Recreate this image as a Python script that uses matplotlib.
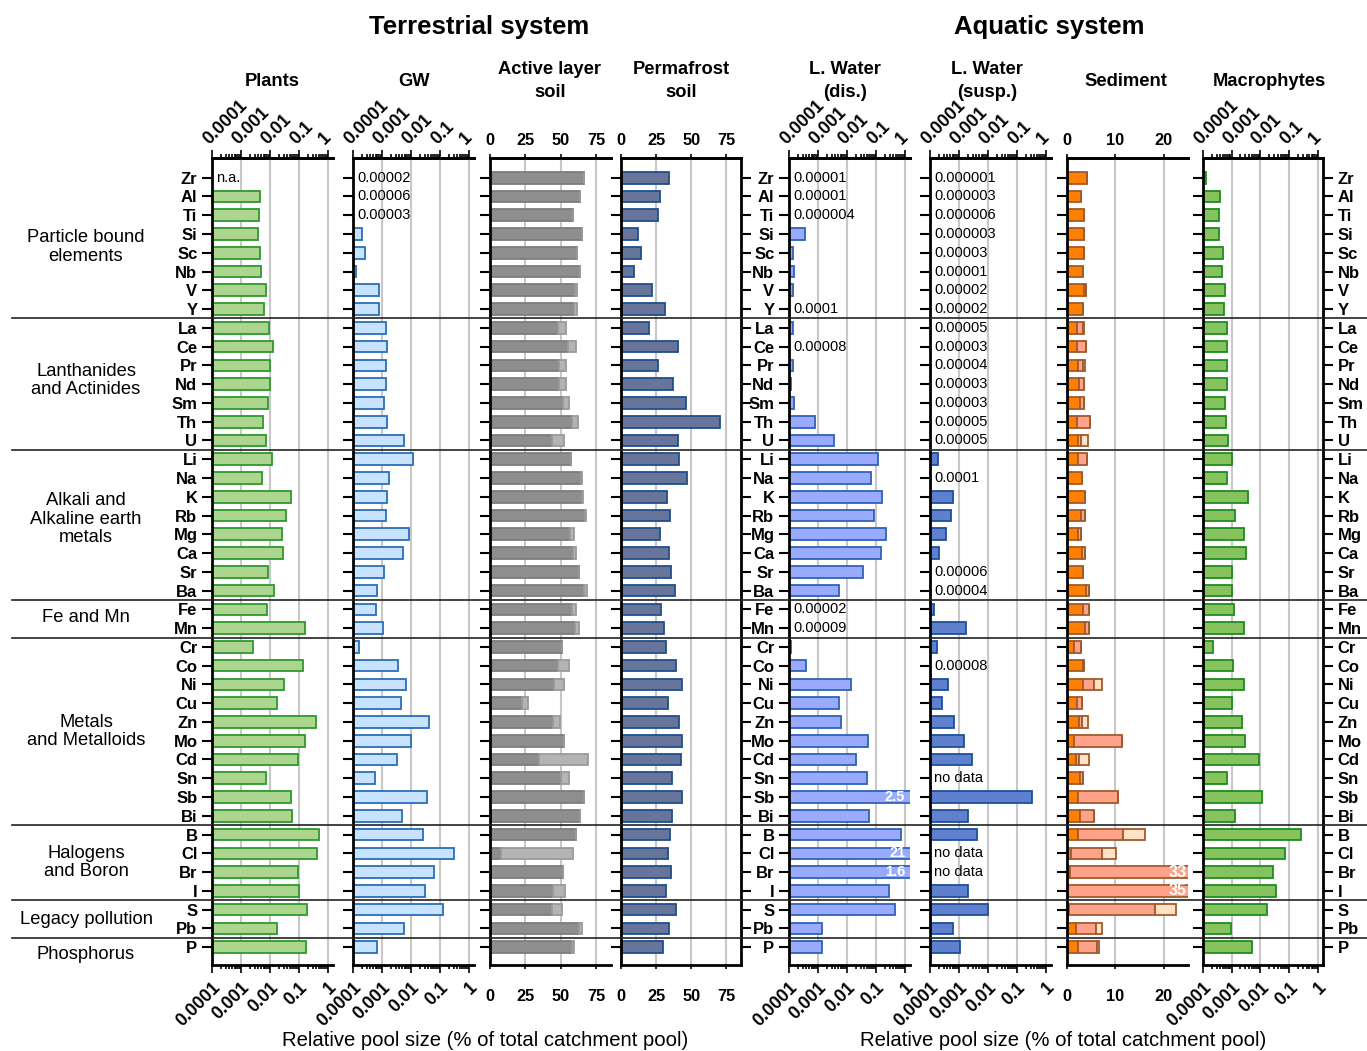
import numpy as np
import matplotlib
matplotlib.use("Agg")
import matplotlib.pyplot as plt
from matplotlib.lines import Line2D
from matplotlib.ticker import LogLocator, NullFormatter
from matplotlib.transforms import blended_transform_factory

plt.rcParams['font.family'] = ['Liberation Sans', 'DejaVu Sans']

nan = np.nan

elements = ["Zr", "Al", "Ti", "Si", "Sc", "Nb", "V", "Y",
            "La", "Ce", "Pr", "Nd", "Sm", "Th", "U",
            "Li", "Na", "K", "Rb", "Mg", "Ca", "Sr", "Ba",
            "Fe", "Mn",
            "Cr", "Co", "Ni", "Cu", "Zn", "Mo", "Cd", "Sn", "Sb", "Bi",
            "B", "Cl", "Br", "I",
            "S", "Pb",
            "P"]

group_names = ["Particle bound\nelements", "Lanthanides\nand Actinides",
               "Alkali and\nAlkaline earth\nmetals", "Fe and Mn",
               "Metals\nand Metalloids", "Halogens\nand Boron",
               "Legacy pollution", "Phosphorus"]
group_rows = [3.7, 10.8, 18.2, 23.45, 29.5, 36.5, 39.55, 41.4]
group_breaks = [7.5, 14.5, 22.5, 24.5, 34.5, 38.5, 40.5]

# relative pool sizes (% of total catchment pool)
plants = [nan, 0.0045, 0.0043, 0.004, 0.0047, 0.0051, 0.0075, 0.0064,
          0.0093, 0.013, 0.010, 0.0097, 0.0083, 0.0059, 0.0075,
          0.0114, 0.0054, 0.052, 0.037, 0.027, 0.029, 0.0088, 0.0134,
          0.0081, 0.165,
          0.0027, 0.14, 0.030, 0.018, 0.39, 0.165, 0.093, 0.0075, 0.052, 0.058,
          0.49, 0.41, 0.095, 0.097,
          0.19, 0.017,
          0.18]

gw = [0.00002, 0.00006, 0.00003, 0.00021, 0.00025, 0.000126, 0.0008, 0.00078,
      0.0014, 0.00145, 0.0014, 0.0014, 0.0012, 0.0015, 0.0057,
      0.0114, 0.0017, 0.0015, 0.0014, 0.0085, 0.0053, 0.0012, 0.0007,
      0.00062, 0.0011,
      0.00016, 0.0036, 0.0066, 0.0045, 0.042, 0.0098, 0.0032, 0.00057, 0.036, 0.0049,
      0.027, 0.30, 0.062, 0.030,
      0.124, 0.0057,
      0.00066]

active_dark = [66.3, 63.4, 58.3, 65.3, 61.6, 63.9, 60.1, 59.4,
               48.3, 55.4, 49.1, 49.1, 51.4, 57.8, 43.6,
               57.3, 64.0, 65.0, 67.0, 56.6, 58.3, 62.7, 66.7,
               58.0, 60.4,
               50.9, 47.9, 45.0, 22.4, 44.3, 52.1, 34.7, 50.5, 66.7, 63.7,
               60.8, 7.8, 51.4, 44.6,
               43.9, 63.0,
               57.8]
active_light = [0, 0, 0, 0, 0, 0, 1.7, 1.9,
                5.2, 5.2, 4.9, 4.9, 4.3, 4.7, 9.0,
                0, 1.0, 0.6, 0.9, 2.6, 2.8, 0, 1.7,
                2.8, 2.3,
                0, 7.8, 7.1, 4.7, 5.5, 0, 34.9, 5.6, 0, 0,
                0, 50.7, 0, 8.2,
                6.8, 1.9,
                1.6]

permafrost = [34.2, 28.1, 26.2, 12.3, 14.6, 9.2, 21.9, 31.1,
              20.3, 40.8, 26.2, 37.0, 46.0, 70.3, 40.8,
              41.0, 46.7, 33.0, 35.1, 27.6, 34.2, 35.6, 38.4,
              28.8, 30.7,
              32.3, 38.9, 43.4, 33.3, 41.3, 43.2, 42.7, 36.3, 43.4, 36.1,
              34.7, 33.5, 35.4, 32.1,
              38.9, 34.2,
              30.0]

lw_dis = [0.00001, 0.00001, 0.000004, 0.00035, 0.000134, 0.00015, 0.000134, 0.0001,
          0.000137, 0.00008, 0.00014, 0.000114, 0.00015, 0.00079, 0.0035,
          0.12, 0.066, 0.16, 0.088, 0.23, 0.145, 0.035, 0.0053,
          0.00002, 0.00009,
          0.000114, 0.00038, 0.0138, 0.0052, 0.0064, 0.055, 0.02, 0.048, 2.5, 0.06,
          0.71, 21, 1.6, 0.28,
          0.44, 0.00134,
          0.00134]

lw_susp = [0.000001, 0.000003, 0.000006, 0.000003, 0.00003, 0.00001, 0.00002, 0.00002,
           0.00005, 0.00003, 0.00004, 0.00003, 0.00003, 0.00005, 0.00005,
           0.000194, 0.0001, 0.00064, 0.00054, 0.00035, 0.0002, 0.00006, 0.00004,
           0.000137, 0.0017,
           0.00017, 0.00008, 0.00042, 0.00025, 0.00066, 0.0015, 0.0028, nan, 0.34, 0.0021,
           0.0041, nan, nan, 0.0021,
           0.0098, 0.00064,
           0.00108]

sed_1 = [4.1, 2.9, 3.45, 3.45, 3.5, 3.4, 3.6, 3.3,
         2.1, 2.1, 2.2, 2.4, 2.6, 2.1, 2.2,
         2.2, 3.2, 3.7, 2.8, 2.3, 3.1, 3.4, 3.9,
         3.3, 3.8,
         1.45, 3.3, 3.24, 2.07, 2.5, 1.38, 1.9, 2.6, 2.3, 2.6,
         2.3, 0.83, 0.6, 0.05,
         0.4, 1.8,
         2.2]
sed_2 = [0, 0, 0, 0, 0, 0, 0.4, 0,
         1.2, 1.8, 1.1, 1.1, 0.9, 2.7, 0.7,
         1.9, 0, 0, 0.85, 0.5, 0.55, 0, 0.65,
         1.2, 0.8,
         1.5, 0.2, 2.4, 0.96, 0.5, 9.9, 0.5, 0.65, 8.2, 3.0,
         9.2, 6.3, 32.4, 34.95,
         17.7, 4.2,
         4.1]
sed_3 = [0, 0, 0, 0, 0, 0, 0, 0,
         0.3, 0, 0.35, 0, 0, 0, 1.4,
         0, 0, 0, 0, 0, 0, 0, 0,
         0, 0,
         0, 0, 1.5, 0, 1.25, 0, 2.15, 0, 0, 0,
         4.6, 2.9, 0, 0,
         4.5, 1.3,
         0.3]

macrophytes = [0.00013, 0.0004, 0.00037, 0.00037, 0.0005, 0.00047, 0.00059, 0.00053,
               0.00071, 0.00068, 0.00071, 0.0007, 0.00059, 0.00064, 0.00075,
               0.00103, 0.0007, 0.0038, 0.0013, 0.0027, 0.0032, 0.001, 0.00103,
               0.00118, 0.0027,
               0.00023, 0.00112, 0.0027, 0.00106, 0.0022, 0.0029, 0.0089, 0.0007, 0.0113, 0.0013,
               0.26, 0.071, 0.028, 0.034,
               0.017, 0.00096,
               0.0049]

log_ticks = [0.0001, 0.001, 0.01, 0.1, 1]
log_labels = ["0.0001", "0.001", "0.01", "0.1", "1"]

W, H = 1367, 1051
fig = plt.figure(figsize=(W / 100, H / 100), dpi=100)
ypos = np.arange(len(elements))
BAR_H = 0.62


def make_ax(x0, x1):
    return fig.add_axes([x0 / W, 1 - 965 / H, (x1 - x0) / W, 807 / H])


def base_axis(ax):
    ax.set_ylim(len(elements) - 0.05, -1.05)
    ax.set_yticks(ypos)
    ax.tick_params(axis='y', which='both', left=True, labelleft=False,
                   length=7, width=1.5, labelsize=12)
    ax.tick_params(axis='x', which='both', top=False, labeltop=False, bottom=True,
                   labelbottom=True, direction='out', width=1.2)
    ax.tick_params(axis='x', which='minor', length=3)
    for side in ['left', 'top', 'bottom']:
        ax.spines[side].set_linewidth(2)
    ax.spines['right'].set_visible(False)
    ax.grid(axis='x', which='major', color='#c8c8c8', lw=1.5)
    ax.set_axisbelow(True)


def log_axis(ax):
    base_axis(ax)
    ax.set_xscale('log')
    ax.set_xlim(1e-4, 1.5)
    top = ax.secondary_xaxis('top')
    top.spines['top'].set_linewidth(2)
    for a in [ax, top]:
        a.set_xticks(log_ticks, log_labels)
        a.xaxis.set_minor_locator(LogLocator(base=10, subs=np.arange(2, 10) * 1.0, numticks=20))
        a.xaxis.set_minor_formatter(NullFormatter())
        a.tick_params(axis='x', which='major', length=6, width=1.2, labelsize=12.8)
        a.tick_params(axis='x', which='minor', length=3, width=1.2)
    ax.tick_params(axis='x', which='major', pad=4)
    top.tick_params(axis='x', which='major', pad=1)
    for t in ax.xaxis.get_major_ticks():
        t.label1.set(rotation=45, rotation_mode='anchor', ha='right', va='top', fontweight='bold')
    for t in top.xaxis.get_major_ticks():
        t.label2.set(rotation=45, rotation_mode='anchor', ha='left', va='bottom', fontweight='bold')


def lin_axis(ax, xmax, ticks):
    base_axis(ax)
    ax.set_xlim(0, xmax)
    top = ax.secondary_xaxis('top')
    top.spines['top'].set_linewidth(2)
    for a in [ax, top]:
        a.set_xticks(ticks, [str(t) for t in ticks])
        a.tick_params(axis='x', which='major', length=3, width=1.2, labelsize=11.8)
    ax.tick_params(axis='x', which='major', pad=14)
    top.tick_params(axis='x', which='major', pad=4)
    for t in ax.xaxis.get_major_ticks():
        t.label1.set(fontweight='bold')
    for t in top.xaxis.get_major_ticks():
        t.label2.set(fontweight='bold')


def log_bars(ax, vals, face, edge, missing="no data"):
    tr = blended_transform_factory(ax.transAxes, ax.transData)
    xmax = ax.get_xlim()[1]
    for y, v in zip(ypos, vals):
        if np.isnan(v):
            ax.text(0.035, y, missing, transform=tr, ha='left', va='center', fontsize=10.5)
        elif v <= 1e-4:
            ax.text(0.035, y, f"{v:.6f}".rstrip('0'), transform=tr, ha='left',
                    va='center', fontsize=10.5)
        else:
            ax.barh(y, v - 1e-6, left=1e-6, height=BAR_H, color=face, edgecolor=edge, lw=1.3)
            if v > xmax:
                ax.text(0.96, y, f"{v:g}", transform=tr, ha='right', va='center',
                        color='white', fontsize=10.5, fontweight='bold')


panels = {
    'plants': (212, 333), 'gw': (353, 474), 'active': (490, 611), 'perma': (621, 741),
    'dis': (789, 910), 'susp': (930, 1051), 'sed': (1067, 1188), 'macro': (1203, 1323),
}
ax_pl = make_ax(*panels['plants'])
ax_gw = make_ax(*panels['gw'])
ax_al = make_ax(*panels['active'])
ax_pf = make_ax(*panels['perma'])
ax_dis = make_ax(*panels['dis'])
ax_sus = make_ax(*panels['susp'])
ax_sed = make_ax(*panels['sed'])
ax_mac = make_ax(*panels['macro'])

for ax in [ax_pl, ax_gw, ax_dis, ax_sus, ax_mac]:
    log_axis(ax)
lin_axis(ax_al, 85.5, [0, 25, 50, 75])
lin_axis(ax_pf, 85.5, [0, 25, 50, 75])
lin_axis(ax_sed, 25, [0, 10, 20])

# Plants
log_bars(ax_pl, plants, '#acd690', '#2b9a2b', missing="n.a.")
ax_pl.tick_params(axis='y', labelleft=True)
ax_pl.set_yticklabels(elements, fontweight='bold')

# Groundwater
log_bars(ax_gw, gw, '#c8e3ff', '#2a6ebb')

# Active layer soil
ax_al.barh(ypos, active_dark, height=BAR_H, color='#8e8e8e', edgecolor='#7d7d7d', lw=1.3)
ax_al.barh(ypos, active_light, left=active_dark, height=BAR_H, color='#b4b4b4',
           edgecolor='#9a9a9a', lw=1.3)

# Permafrost soil
ax_pf.barh(ypos, permafrost, height=BAR_H, color='#68759a', edgecolor='#1f4e8c', lw=1.3)
ax_pf.spines['right'].set_visible(True)
ax_pf.spines['right'].set_linewidth(2)
ax_pf.tick_params(axis='y', right=True, labelright=False)

# Lake water
log_bars(ax_dis, lw_dis, '#9aabff', '#2e62b8')
ax_dis.tick_params(axis='y', labelleft=True)
ax_dis.set_yticklabels(elements, fontweight='bold')
log_bars(ax_sus, lw_susp, '#5f80cc', '#1d4f9c')

# Sediment
sed_edge = '#a05a2c'
s1 = np.array(sed_1)
s2 = np.array(sed_2)
s3 = np.array(sed_3)
ax_sed.barh(ypos, s1, height=BAR_H, color='#ff7f00', edgecolor=sed_edge, lw=1.3)
ax_sed.barh(ypos, s2, left=s1, height=BAR_H, color='#ffa28a', edgecolor=sed_edge, lw=1.3)
ax_sed.barh(ypos, s3, left=s1 + s2, height=BAR_H, color='#ffe2c6', edgecolor=sed_edge, lw=1.3)
tr = blended_transform_factory(ax_sed.transAxes, ax_sed.transData)
for y, tot in zip(ypos, s1 + s2 + s3):
    if tot > 25:
        ax_sed.text(0.985, y, f"{tot:.0f}", transform=tr, ha='right', va='center',
                    color='white', fontsize=11.5, fontweight='bold')

# Macrophytes
log_bars(ax_mac, macrophytes, '#86c25e', '#1e8c1e')
ax_mac.spines['right'].set_visible(True)
ax_mac.spines['right'].set_linewidth(2)
ax_mac.tick_params(axis='y', right=True, labelright=True)
ax_mac.set_yticklabels(elements, fontweight='bold')

# group separators and labels
to_fig = fig.transFigure.inverted()
for b in group_breaks:
    yf = to_fig.transform(ax_pl.transData.transform((1e-3, b)))[1]
    fig.add_artist(Line2D([12 / W, 1.0], [yf, yf], transform=fig.transFigure,
                          color='#222222', lw=1.2))
for name, r in zip(group_names, group_rows):
    yf = to_fig.transform(ax_pl.transData.transform((1e-3, r)))[1]
    fig.text(86 / W, yf, name, ha='center', va='center', fontsize=13.2, linespacing=1.1)

# titles
fig.text(479 / W, 1 - 27 / H, "Terrestrial system", ha='center', va='center',
         fontsize=18.5, fontweight='bold')
fig.text(1049 / W, 1 - 27 / H, "Aquatic system", ha='center', va='center',
         fontsize=18.5, fontweight='bold')
titles = ["Plants", "GW", "Active layer\nsoil", "Permafrost\nsoil", "L. Water\n(dis.)",
          "L. Water\n(susp.)", "Sediment", "Macrophytes"]
title_x = [272, 414, 550, 681, 845, 987, 1126, 1269]
for t, x in zip(titles, title_x):
    fig.text(x / W, 1 - 81 / H, t, ha='center', va='center', fontsize=13.2,
             fontweight='bold', linespacing=1.5)

xlab = "Relative pool size (% of total catchment pool)"
fig.text(485 / W, 1 - 1041 / H, xlab, ha='center', va='center', fontsize=14.6)
fig.text(1063 / W, 1 - 1041 / H, xlab, ha='center', va='center', fontsize=14.6)

fig.savefig("out.png", dpi=100)
